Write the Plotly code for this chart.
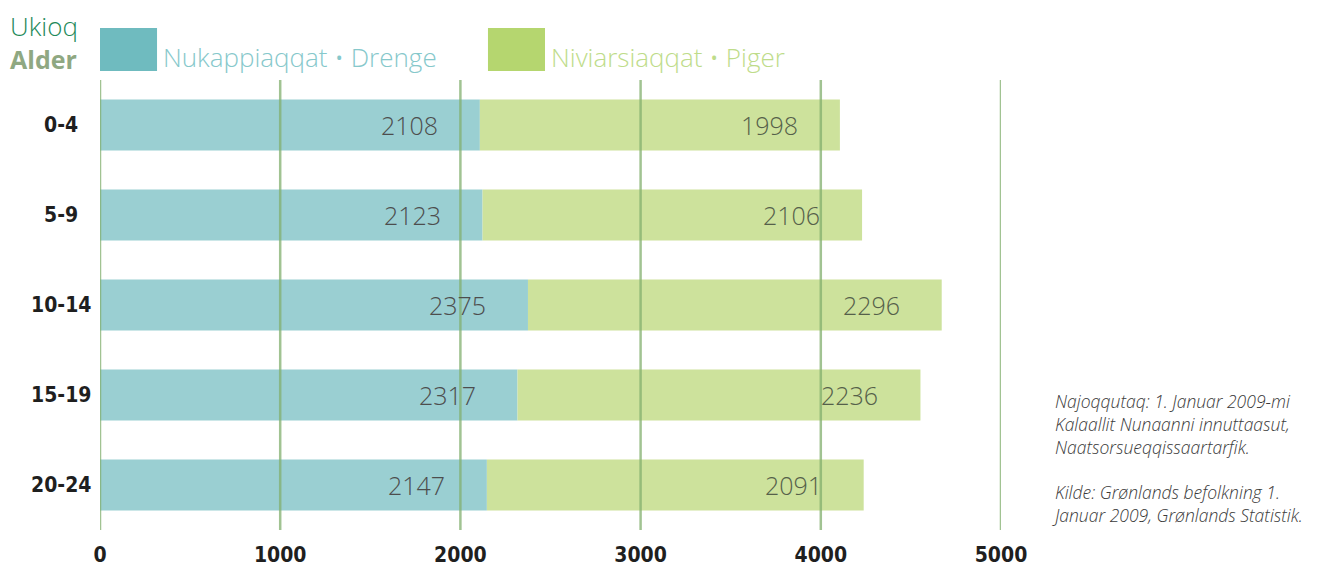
import plotly.graph_objects as go

ages = ["0-4", "5-9", "10-14", "15-19", "20-24"]
boys = [2108, 2123, 2375, 2317, 2147]
girls = [1998, 2106, 2296, 2236, 2091]
x_ticks = [0, 1000, 2000, 3000, 4000, 5000]

BOY_BAR = "#9acfd2"
GIRL_BAR = "#cde29c"
BOY_KEY = "#6fbbbf"
GIRL_KEY = "#b5d66f"
GRID = "rgba(130,175,110,0.75)"
LIGHT = "Open Sans, Lato, sans-serif"
COND = "DejaVu Sans Condensed, Roboto, sans-serif"

fig = go.Figure()
fig.add_trace(go.Bar(y=ages, x=boys, orientation="h", marker_color=BOY_BAR,
                     marker_line_width=0, name="Nukappiaqqat • Drenge"))
fig.add_trace(go.Bar(y=ages, x=girls, base=boys, orientation="h", marker_color=GIRL_BAR,
                     marker_line_width=0, name="Niviarsiaqqat • Piger"))

# value labels, right aligned inside each segment
for age, b, g in zip(ages, boys, girls):
    fig.add_annotation(x=b, y=age, text=str(b), xanchor="right", xshift=-40, showarrow=False,
                       font=dict(family=LIGHT, size=25, color="#4d4d4d", weight=300))
    fig.add_annotation(x=b + g, y=age, text=str(g), xanchor="right", xshift=-40, showarrow=False,
                       font=dict(family=LIGHT, size=25, color="#55604a", weight=300))
    # centred age labels
    fig.add_annotation(x=-0.043, xref="paper", y=age, text=f"<b>{age}</b>", xanchor="center",
                       showarrow=False, font=dict(family=COND, size=21, color="#1f1f1f"))

# vertical gridlines drawn above the bars
for t in x_ticks:
    fig.add_shape(type="line", xref="x", yref="paper", x0=t, x1=t, y0=0, y1=1.0,
                  line=dict(color=GRID, width=2.5), layer="above")

# header
fig.add_annotation(xref="paper", yref="paper", x=-0.0622, y=1.12, xanchor="center",
                   yanchor="middle", text="Ukioq", showarrow=False, borderpad=0,
                   font=dict(family=LIGHT, size=26, color="#1e8a5a", weight=300))
fig.add_annotation(xref="paper", yref="paper", x=-0.0627, y=1.047, xanchor="center",
                   yanchor="middle", text="<b>Alder</b>", showarrow=False,
                   font=dict(family="Open Sans, sans-serif", size=25, color="#8fa882"))

# legend keys
legend_items = [("Nukappiaqqat • Drenge", BOY_KEY, "#86c8cb", 0.0),
                ("Niviarsiaqqat • Piger", GIRL_KEY, "#bedc8a", 0.4306)]
for label, key, txt, x0 in legend_items:
    fig.add_shape(type="rect", xref="paper", yref="paper", x0=x0, x1=x0 + 0.0633,
                  y0=1.02, y1=1.1156, fillcolor=key, line_width=0)
    fig.add_annotation(xref="paper", yref="paper", x=x0 + 0.0677, y=1.052, xanchor="left",
                       yanchor="middle", text=label, showarrow=False,
                       font=dict(family=LIGHT, size=26, color=txt, weight=300))

# source note
fig.add_annotation(xref="paper", yref="paper", x=1.054, y=0.318, xanchor="left", yanchor="top",
                   align="left", showarrow=False,
                   text="<i>Najoqqutaq: 1. Januar 2009-mi<br>Kalaallit Nunaanni innuttaasut,<br>"
                        "Naatsorsueqqissaartarfik.<br><br>Kilde: Grønlands befolkning 1.<br>"
                        "Januar 2009, Grønlands Statistik.</i>",
                   font=dict(family=LIGHT, size=17.5, color="#3a3a3a", weight=300))

# the page body has an 8px margin, so the figure is sized to fit the window from there
fig.update_layout(
    width=1312, height=561,
    barmode="overlay", bargap=0.433,
    showlegend=False,
    plot_bgcolor="white", paper_bgcolor="white",
    margin=dict(l=92, r=319, t=72, b=39),
    xaxis=dict(range=[0, 5000], tickvals=x_ticks, showgrid=False, zeroline=False,
               showline=False, ticks="", ticklabelstandoff=10, automargin=False,
               tickfont=dict(family=COND, size=21, color="#1f1f1f", weight="bold")),
    yaxis=dict(categoryorder="array", categoryarray=ages, autorange="reversed",
               showticklabels=False, showgrid=False, zeroline=False,
               ticks="", automargin=False),
)

fig.write_html("out.html")
